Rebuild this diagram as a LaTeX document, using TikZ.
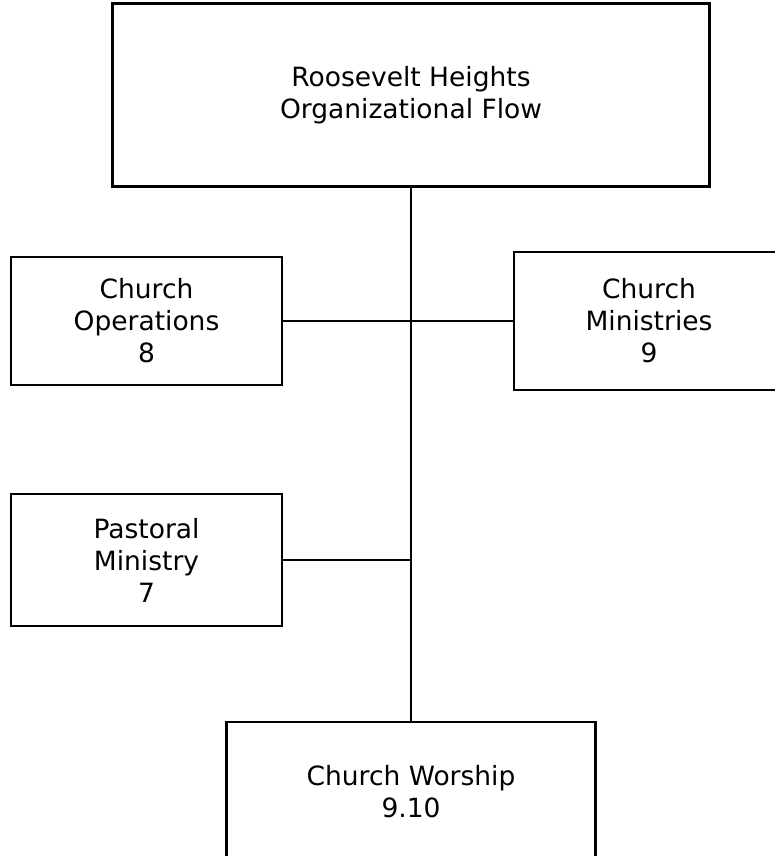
\documentclass[tikz,border=0pt]{standalone}
\usepackage{fontspec}
\setmainfont{DejaVu Sans}
\usetikzlibrary{positioning}

\begin{document}
\begin{tikzpicture}[x=1pt,y=-1pt,node distance=200pt,on grid]
    \tikzstyle{block}=[shape=rectangle,draw,line width=2.5pt,align=center,inner sep=0pt,font=\fontsize{26.5}{32}\selectfont]
    \tikzstyle{link}=[draw,line width=1.2pt]
    \useasboundingbox (0,0) rectangle (775,856);

    \node[block, minimum width=597pt, minimum height=183pt] (flow) at (411,95) {Roosevelt Heights\\Organizational Flow};
    \node[block, minimum width=271pt, minimum height=128pt, below left=226pt and 264.5pt of flow] (ops) {Church\\Operations\\8};
    \node[block, minimum width=270pt, minimum height=138pt, below right=226pt and 238pt of flow] (ministries) {Church\\Ministries\\9};
    \node[block, minimum width=271pt, minimum height=132pt, below=239pt of ops] (pastoral) {Pastoral\\Ministry\\7};
    \node[block, minimum width=369pt, minimum height=140pt, below=697pt of flow] (worship) {Church Worship\\9.10};

    \path[link]
    (flow) -- (worship)
    (ops) -- (ministries)
    (pastoral) -- (pastoral -| flow)
    ;
\end{tikzpicture}
\end{document}
